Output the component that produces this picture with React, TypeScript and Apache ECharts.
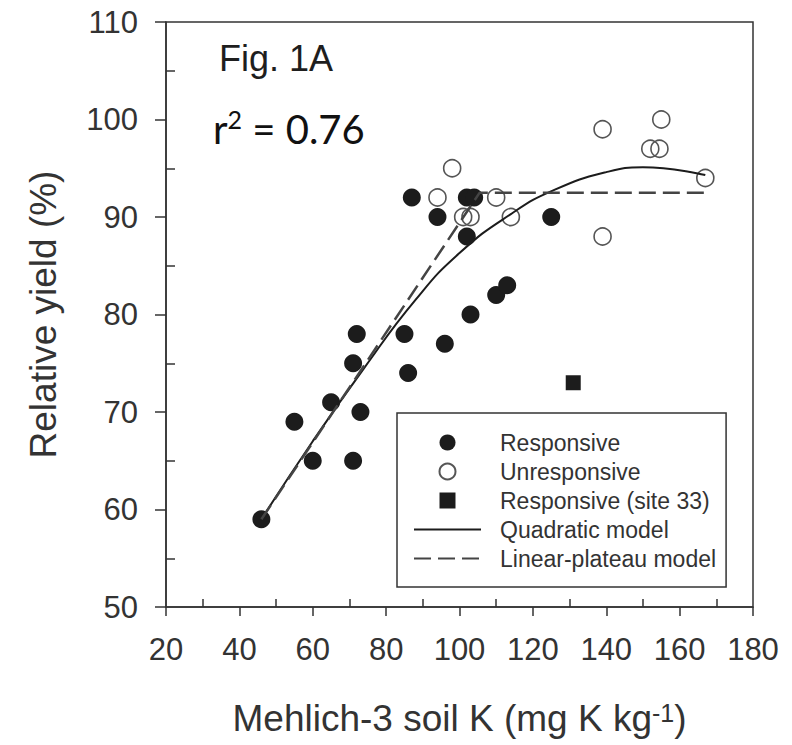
import React, { useEffect, useRef } from "react";
import * as echarts from "echarts";

// Responsive sites (filled circles)
const responsiveK = [46, 55, 60, 65, 71, 72, 73, 71, 85, 86, 96, 103, 110, 113, 87, 94, 102, 104, 102, 125];
const responsiveYield = [59, 69, 65, 71, 75, 78, 70, 65, 78, 74, 77, 80, 82, 83, 92, 90, 92, 92, 88, 90];
// Unresponsive sites (open circles)
const unresponsiveK = [94, 98, 101, 103, 110, 114, 139, 139, 152, 154.5, 155, 167];
const unresponsiveYield = [92, 95, 90, 90, 92, 90, 99, 88, 97, 97, 100, 94];
// Responsive site 33 (square)
const site33K = [131];
const site33Yield = [73];
// Quadratic model curve
const quadK = [46, 60, 74, 88, 100, 114, 126, 140, 150, 167];
const quadYield = [59, 67, 74.5, 81.5, 86.3, 90.3, 92.8, 94.6, 95.1, 94.3];
// Linear-plateau model
const lpK = [46, 105.5, 167.4];
const lpYield = [59, 92.5, 92.5];

const xTicks = [20, 40, 60, 80, 100, 120, 140, 160, 180];
const xMinorTicks = [30, 50, 70, 90, 110, 130, 150, 170];
const yTicks = [50, 60, 70, 80, 90, 100, 110];
const yMinorTicks = [55, 65, 75, 85, 95, 105];

const zip = (a: number[], b: number[]) => a.map((v, i) => [v, b[i]]);

export default function App() {
  const ref = useRef<HTMLDivElement>(null);
  useEffect(() => {
    if (!ref.current) return;
    const chart = echarts.init(ref.current, undefined, { renderer: "svg" });
    const font = "'Liberation Sans', Arial, sans-serif";
    const axisColor = "#333";
    const labelColor = "#333";
    chart.setOption({
      animation: false,
      backgroundColor: "#fff",
      grid: {
        left: 166,
        right: 39,
        top: 22,
        bottom: 138,
        show: true,
        borderColor: axisColor,
        borderWidth: 1.5,
        backgroundColor: "transparent",
      },
      xAxis: [
        {
          type: "value",
          min: 20,
          max: 180,
          interval: 20,
          axisLine: { show: true, lineStyle: { color: axisColor, width: 1.5 } },
          axisTick: { show: true, inside: false, length: 9, lineStyle: { color: axisColor, width: 1.5 }, customValues: xTicks },
          axisLabel: { color: labelColor, fontSize: 31, fontFamily: font, margin: 27, customValues: xTicks },
          splitLine: { show: false },
          name: "Mehlich-3 soil K (mg K kg{sup|-1})",
          nameLocation: "middle",
          nameGap: 93,
          nameTextStyle: {
            color: labelColor,
            fontSize: 37,
            fontFamily: font,
            lineHeight: 37,
            rich: {
              sup: { fontSize: 25, fontFamily: font, color: labelColor, verticalAlign: "top", lineHeight: 37 },
            },
          },
        },
        {
          type: "value",
          position: "bottom",
          min: 20,
          max: 180,
          interval: 10,
          axisLine: { show: false },
          axisTick: { show: true, inside: true, length: 8, lineStyle: { color: axisColor, width: 1.5 }, customValues: xMinorTicks },
          axisLabel: { show: false },
          splitLine: { show: false },
        },
      ],
      yAxis: [
        {
          type: "value",
          min: 50,
          max: 110,
          interval: 10,
          axisLine: { show: true, lineStyle: { color: axisColor, width: 1.5 } },
          axisTick: { show: true, inside: false, length: 11, lineStyle: { color: axisColor, width: 1.5 }, customValues: yTicks },
          axisLabel: { color: labelColor, fontSize: 31, fontFamily: font, margin: 28, customValues: yTicks },
          splitLine: { show: false },
          name: "Relative yield (%)",
          nameLocation: "middle",
          nameGap: 104,
          nameRotate: 90,
          nameTextStyle: { color: labelColor, fontSize: 37, fontFamily: font },
        },
        {
          type: "value",
          position: "left",
          min: 50,
          max: 110,
          interval: 5,
          axisLine: { show: false },
          axisTick: { show: true, inside: true, length: 9, lineStyle: { color: axisColor, width: 1.5 }, customValues: yMinorTicks },
          axisLabel: { show: false },
          splitLine: { show: false },
        },
      ],
      legend: {
        orient: "vertical",
        left: 397,
        top: 413,
        padding: [18, 10, 17, 16],
        itemWidth: 67,
        itemHeight: 16,
        itemGap: 6,
        symbolKeepAspect: true,
        borderColor: "#333",
        borderWidth: 1.5,
        backgroundColor: "#fff",
        textStyle: { color: "#333", fontSize: 23, fontFamily: font, lineHeight: 23, padding: [0, 0, 0, 14] },
        data: [
          "Responsive",
          "Unresponsive",
          { name: "Responsive (site 33)", icon: "path://M0,0L10,0L10,10L0,10Z" },
          "Quadratic model",
          "Linear-plateau model",
        ],
      },
      graphic: [
        {
          type: "text",
          left: 219,
          top: 40,
          style: { text: "Fig. 1A", fill: "#1e1e1e", fontSize: 36, fontFamily: font },
        },
        {
          type: "text",
          left: 213,
          top: 106,
          style: {
            text: "{a|r}{b|2}{a| = 0.76}",
            fill: "#111",
            rich: {
              a: { fontSize: 40, fontFamily: "Lato, 'Open Sans', sans-serif", fill: "#111", lineHeight: 46 },
              b: { fontSize: 25, fontFamily: "Lato, 'Open Sans', sans-serif", fill: "#111", verticalAlign: "top", lineHeight: 46 },
            },
          },
        },
      ],
      series: [
        {
          name: "Responsive",
          type: "scatter",
          data: zip(responsiveK, responsiveYield),
          symbol: "circle",
          symbolSize: 18,
          itemStyle: { color: "#1c1c1c", opacity: 1 },
          z: 3,
        },
        {
          name: "Unresponsive",
          type: "scatter",
          data: zip(unresponsiveK, unresponsiveYield),
          symbol: "circle",
          symbolSize: 17,
          itemStyle: { color: "rgba(255,255,255,0)", borderColor: "#555", borderWidth: 1.6, opacity: 1 },
          z: 3,
        },
        {
          name: "Responsive (site 33)",
          type: "scatter",
          data: zip(site33K, site33Yield),
          symbol: "rect",
          symbolSize: 15,
          itemStyle: { color: "#1c1c1c", opacity: 1 },
          z: 3,
        },
        {
          name: "Quadratic model",
          type: "line",
          data: zip(quadK, quadYield),
          smooth: 0.5,
          symbol: "none",
          itemStyle: { color: "rgba(0,0,0,0)" },
          lineStyle: { color: "#1c1c1c", width: 2 },
          z: 4,
        },
        {
          name: "Linear-plateau model",
          type: "line",
          data: zip(lpK, lpYield),
          symbol: "none",
          itemStyle: { color: "rgba(0,0,0,0)" },
          lineStyle: { color: "#444", width: 2.5, type: [17, 7] },
          z: 4,
        },
      ],
    });
    return () => chart.dispose();
  }, []);
  return <div ref={ref} style={{ position: "absolute", left: 0, top: 0, width: 792, height: 745 }} />;
}
